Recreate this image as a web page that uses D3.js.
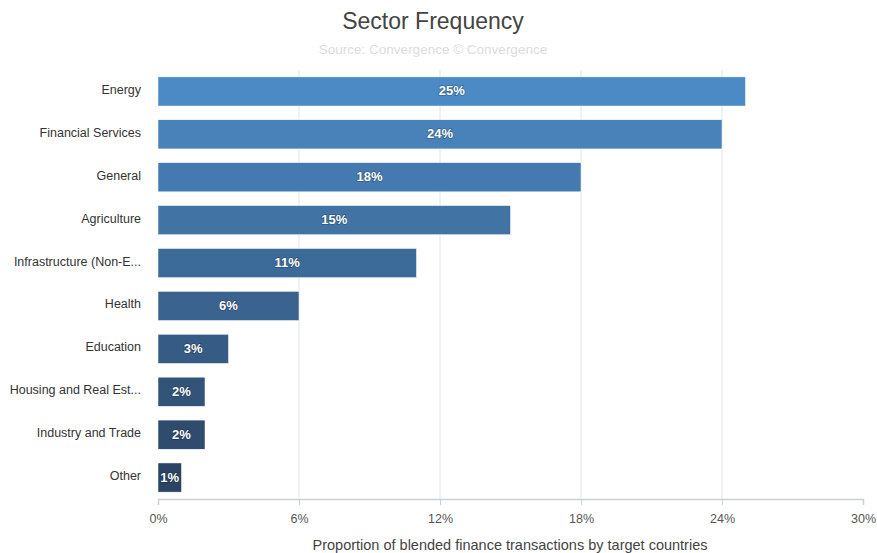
<!DOCTYPE html>
<html><head><meta charset="utf-8">
<script src="https://cdn.jsdelivr.net/npm/d3@7"></script>
<style>body{margin:0;background:#fff;font-family:"Liberation Sans",Arial,sans-serif;}</style>
</head><body>
<svg id="c" width="877" height="553"></svg>
<script>
const categories = ["Energy","Financial Services","General","Agriculture","Infrastructure (Non-E...","Health","Education","Housing and Real Est...","Industry and Trade","Other"];
const values = [25,24,18,15,11,6,3,2,2,1];
const xTicks = [0,6,12,18,24,30];

const svg = d3.select("#c");
const m = {left:158, right:863, top:70, bottom:499};
const x = d3.scaleLinear().domain([0,30]).range([m.left,m.right]);
const y = d3.scaleBand().domain(categories).range([m.top,m.bottom]).paddingInner(0.32).paddingOuter(0.16);
const color = d3.scaleLinear().domain([0,categories.length-1]).range(["#4b8ac4","#2c4464"]).interpolate(d3.interpolateRgb);

// gridlines
svg.append("g").selectAll("line").data(xTicks.filter(t=>t>0&&t<30)).join("line")
  .attr("x1",d=>x(d)).attr("x2",d=>x(d)).attr("y1",m.top).attr("y2",m.bottom)
  .attr("stroke","#dfe5ec").attr("stroke-width",1);

// title
svg.append("text").attr("x",433).attr("y",29).attr("text-anchor","middle")
  .attr("font-size",23).attr("fill","#444").text("Sector Frequency");
svg.append("text").attr("x",433).attr("y",54).attr("text-anchor","middle")
  .attr("font-size",13.5).attr("fill","#dcdcdc").text("Source: Convergence © Convergence");

// bars
svg.append("g").selectAll("rect").data(categories).join("rect")
  .attr("x",x(0)).attr("y",d=>y(d)).attr("width",(d,i)=>x(values[i])-x(0)).attr("height",y.bandwidth())
  .attr("fill",(d,i)=>color(i)).attr("stroke","#fff").attr("stroke-width",0.5);

// bar labels
svg.append("g").selectAll("text").data(categories).join("text")
  .attr("x",(d,i)=>(x(0)+x(values[i]))/2).attr("y",d=>y(d)+y.bandwidth()/2+4)
  .attr("text-anchor","middle").attr("font-size",13).attr("font-weight","bold").attr("fill","#fff")
  .style("paint-order","stroke").attr("stroke","rgba(0,0,0,0.25)").attr("stroke-width",1.5)
  .text((d,i)=>values[i]+"%");

// y labels
svg.append("g").selectAll("text").data(categories).join("text")
  .attr("x",141).attr("y",d=>y(d)+y.bandwidth()/2+2.5)
  .attr("text-anchor","end").attr("font-size",12.5).attr("fill","#333").text(d=>d);

// x axis
const ax = svg.append("g").attr("transform",`translate(0,${m.bottom})`)
  .call(d3.axisBottom(x).tickValues(xTicks).tickFormat(d=>d+"%").tickSize(6).tickPadding(9));
ax.select(".domain").attr("stroke","#c8d0d8").attr("stroke-width",1.5);
ax.selectAll(".tick line").attr("stroke","#c8d0d8").attr("stroke-width",1);
ax.selectAll(".tick").filter(d=>d===0||d===30).select("line").remove();
ax.selectAll(".tick text").attr("font-size",12.5).attr("fill","#555").attr("font-family","Liberation Sans, Arial, sans-serif");

svg.append("text").attr("x",510).attr("y",550).attr("text-anchor","middle")
  .attr("font-size",14.5).attr("fill","#444").text("Proportion of blended finance transactions by target countries");
</script>
</body></html>
